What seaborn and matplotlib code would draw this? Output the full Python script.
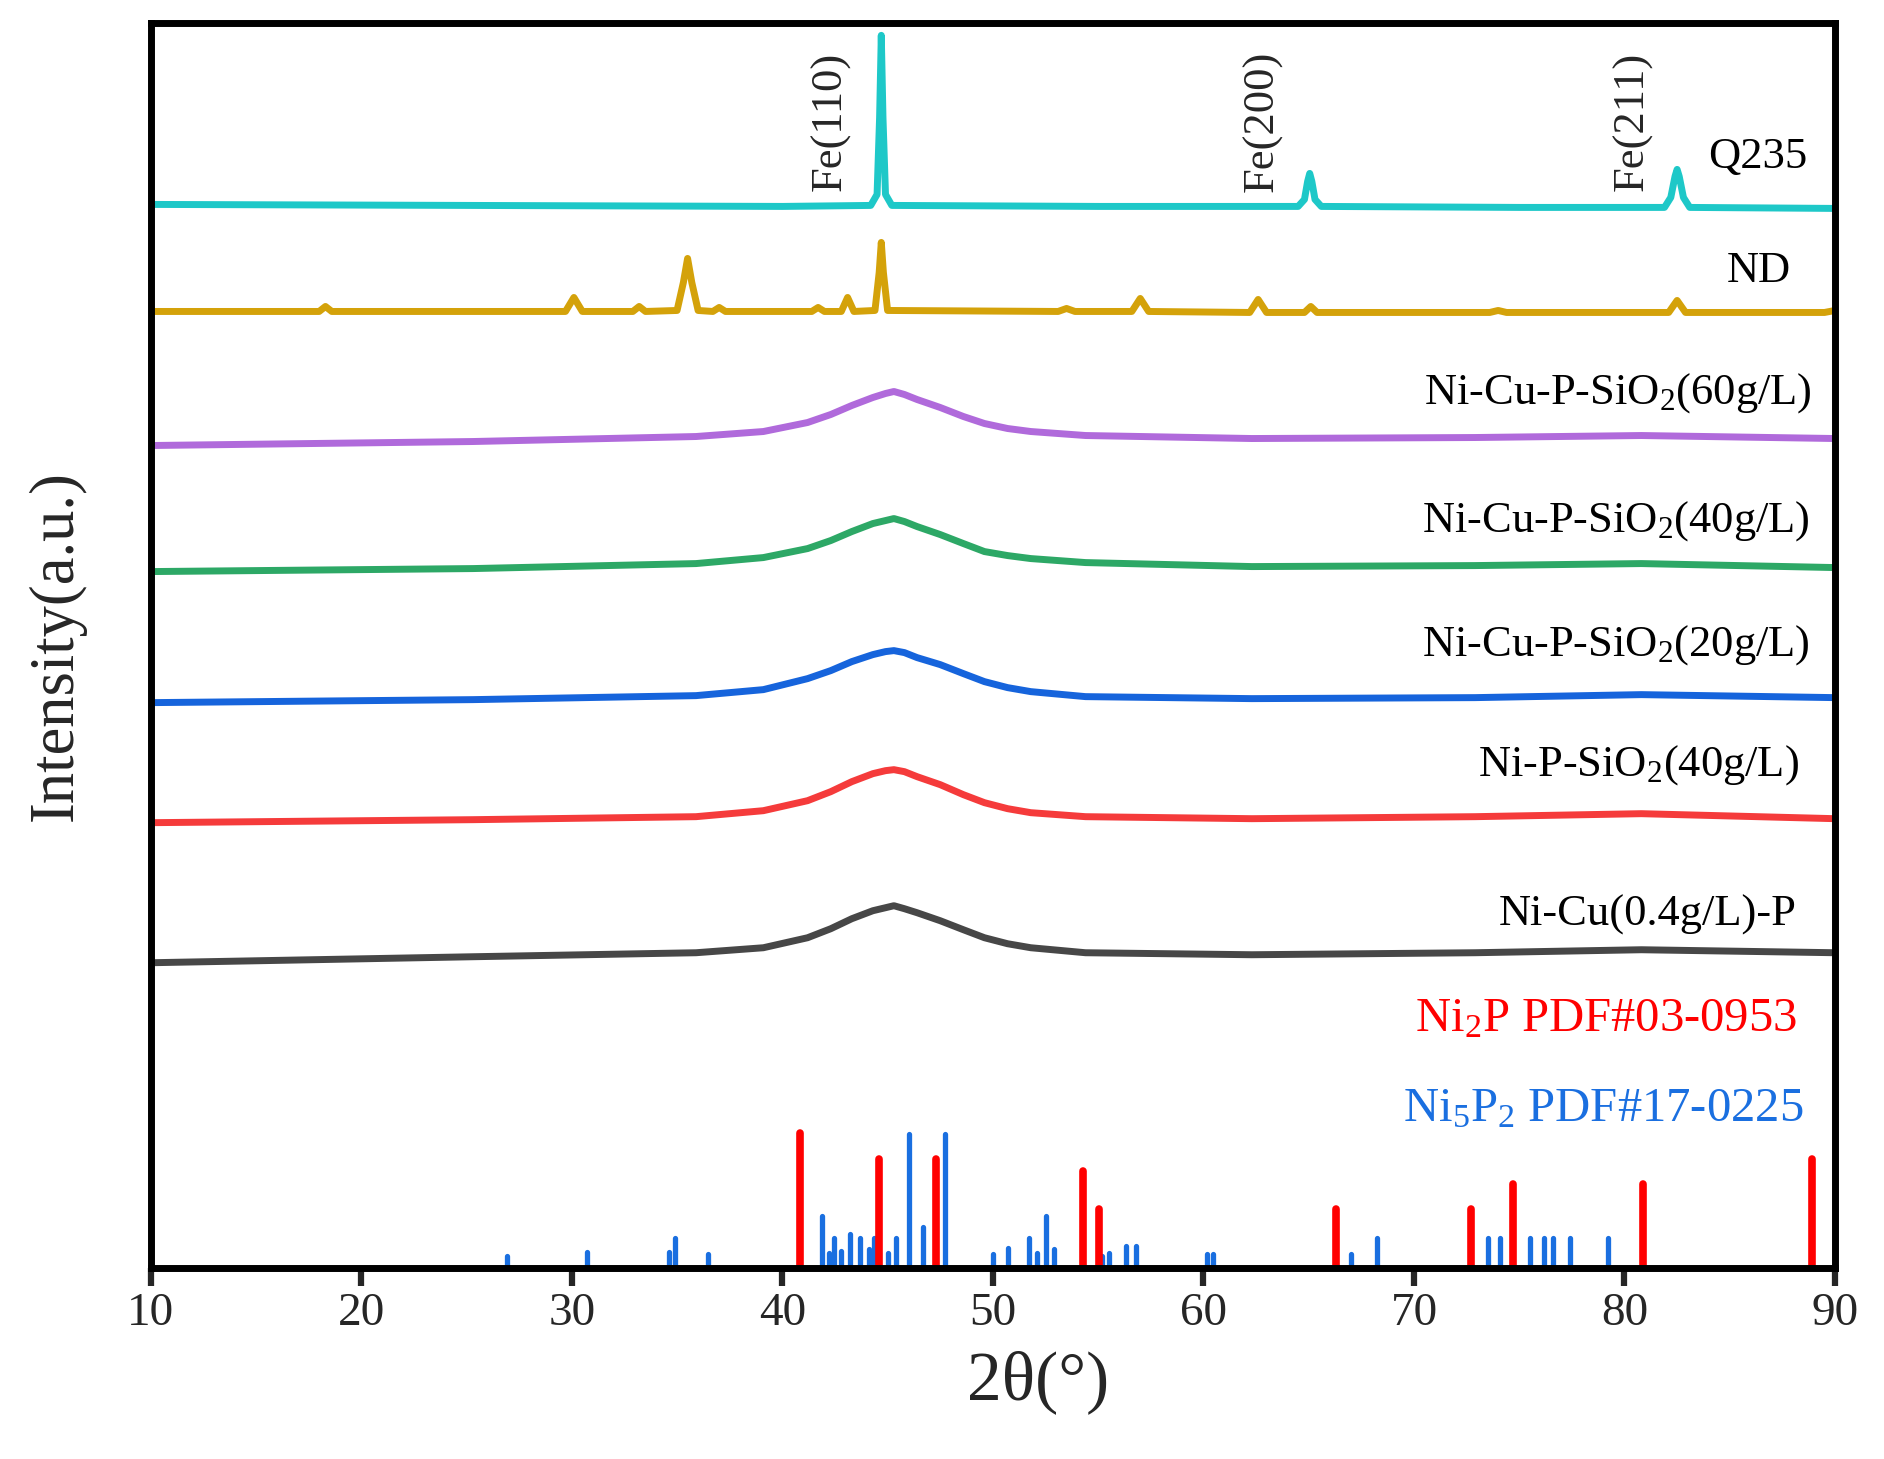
import pandas as pd
import matplotlib.pyplot as plt
import seaborn as sns

# XRD traces (2theta in degrees, intensity in a.u., already offset)
q235_x = [10, 25, 40, 44.2, 44.5, 44.62, 44.7, 44.78, 44.9, 45.2, 55, 64.5, 64.8, 64.95, 65.05, 65.15, 65.3, 65.6,
          75, 81.9, 82.2, 82.4, 82.5, 82.6, 82.8, 83.1, 90]
q235_y = [1063, 1062, 1061, 1062, 1073, 1150, 1232, 1150, 1073, 1062, 1061, 1061, 1068, 1086, 1094, 1086, 1068, 1061,
          1060, 1060, 1070, 1091, 1098, 1091, 1070, 1060, 1059]

nd_x = [10, 18.0, 18.3, 18.6, 29.7, 30.1, 30.5, 32.9, 33.2, 33.5, 35.0, 35.3, 35.5, 35.7, 36.0, 36.7, 37.0, 37.3,
        41.4, 41.7, 42.0, 42.8, 43.1, 43.4, 44.4, 44.6, 44.7, 44.8, 45.0, 53.1, 53.5, 53.9, 56.6, 57.0, 57.4,
        62.2, 62.6, 63.0, 64.8, 65.1, 65.4, 73.6, 74.0, 74.4, 82.1, 82.5, 82.9, 89.5, 90]
nd_y = [956, 956, 961, 956, 956, 970, 956, 956, 961, 956, 957, 985, 1009, 985, 957, 956, 960, 956,
        956, 960, 956, 956, 970, 956, 957, 995, 1025, 995, 957, 956, 959, 956, 956, 969, 956,
        955, 968, 955, 955, 961, 955, 955, 957, 955, 955, 967, 955, 955, 957]

hump_x = [10, 25.3, 35.9, 39.1, 41.2, 42.3, 43.3, 44.3, 44.9, 45.3, 45.8, 46.4, 47.5, 48.6, 49.6, 50.7, 51.8, 54.4,
          62.3, 72.9, 80.8, 90]
si60_y = [822, 826, 831, 836, 845, 853, 862, 870, 874, 876, 873, 868, 860, 851, 844, 839, 836, 832,
          829, 830, 832, 829]
si40_y = [696, 699, 704, 710, 719, 727, 736, 744, 747, 749, 746, 741, 733, 724, 716, 712, 709, 705,
          701, 702, 704, 700]
si20_y = [565, 568, 572, 578, 589, 597, 606, 613, 616, 617, 615, 610, 603, 594, 586, 580, 576, 571,
          569, 570, 573, 570]
nip_y = [445, 448, 451, 457, 467, 476, 486, 494, 497, 498, 496, 491, 483, 473, 465, 459, 455, 451,
         449, 451, 454, 449]
nicu_y = [305, 311, 315, 320, 330, 339, 349, 357, 360, 362, 359, 355, 347, 338, 330, 324, 320, 315,
          313, 315, 318, 315]

# reference stick patterns
ni2p_pos = [40.85, 44.6, 47.3, 54.3, 55.05, 66.3, 72.7, 74.7, 80.9, 88.9]
ni2p_int = [135, 109, 109, 97, 59, 59, 59, 84, 84, 109]
ni5p2_pos = [26.9, 30.7, 34.6, 34.9, 36.45, 41.9, 42.2, 42.45, 42.8, 43.2, 43.7, 44.1, 44.35, 45.0, 45.4, 46.0,
             46.7, 47.75, 50.0, 50.7, 51.7, 52.1, 52.5, 52.9, 55.2, 55.5, 56.3, 56.8, 60.15, 60.45, 67.0, 68.25,
             73.5, 74.1, 75.5, 76.2, 76.6, 77.4, 79.2]
ni5p2_int = [12, 16, 16, 30, 14, 52, 15, 30, 17, 34, 30, 19, 30, 15, 30, 134,
             41, 134, 14, 20, 30, 15, 52, 19, 12, 15, 22, 22, 14, 14, 14, 30,
             30, 30, 30, 30, 30, 30, 30]

fe_labels = ["Fe(110)", "Fe(200)", "Fe(211)"]
fe_pos = [42.3, 62.8, 80.4]

curve_names = ["Q235", "ND", "Ni-Cu-P-SiO$_2$(60g/L)", "Ni-Cu-P-SiO$_2$(40g/L)",
               "Ni-Cu-P-SiO$_2$(20g/L)", "Ni-P-SiO$_2$(40g/L)", "Ni-Cu(0.4g/L)-P"]
curve_colors = ["#1EC8C8", "#D4A20A", "#B06ADB", "#2DA866", "#1664DC", "#F53B3B", "#474747"]
label_x = [88.7, 87.9, 88.9, 88.8, 88.8, 88.3, 88.2]
label_y = [1110, 996, 874, 747, 623, 503, 353]

sns.set_style("ticks")
plt.rcParams['font.family'] = ['Liberation Serif', 'DejaVu Serif']
plt.rcParams['mathtext.default'] = 'regular'

fig = plt.figure(figsize=(18.84, 14.59), dpi=100)
ax = fig.add_axes([0.080, 0.131, 0.894, 0.853])

curves = [(q235_x, q235_y), (nd_x, nd_y), (hump_x, si60_y), (hump_x, si40_y),
          (hump_x, si20_y), (hump_x, nip_y), (hump_x, nicu_y)]
for (xs, ys), c in zip(curves, curve_colors):
    df = pd.DataFrame({"two_theta": xs, "intensity": ys})
    sns.lineplot(data=df, x="two_theta", y="intensity", color=c, lw=5, ax=ax, sort=True)

st1 = ax.vlines(ni5p2_pos, 0, ni5p2_int, color="#1A6FE0", lw=3.8)
st2 = ax.vlines(ni2p_pos, 0, ni2p_int, color="#FF0000", lw=5.5)
st1.set_capstyle("round")
st2.set_capstyle("round")

for name, c, lx, ly in zip(curve_names, curve_colors, label_x, label_y):
    ax.text(lx, ly, name, ha="right", va="center", fontsize=32, color="black")

for lab, p in zip(fe_labels, fe_pos):
    ax.text(p, 1146, lab, rotation=90, ha="center", va="center", fontsize=32)

ax.text(88.2, 248, "Ni$_2$P PDF#03-0953", ha="right", va="center", fontsize=35, color="#FF0000")
ax.text(88.5, 158, "Ni$_5$P$_2$ PDF#17-0225", ha="right", va="center", fontsize=35, color="#1A6FE0")

ax.set_xlim(10, 90)
ax.set_ylim(0, 1244)
ax.set_xticks(range(10, 91, 10))
ax.set_yticks([])
ax.set_xlabel("2θ(°)", fontsize=50)
ax.xaxis.set_label_coords(0.527, -0.066)
ax.set_ylabel("Intensity(a.u.)", fontsize=45, labelpad=47)
ax.tick_params(axis="x", direction="out", length=13, width=4.5, labelsize=34, pad=5)
for s in ax.spines.values():
    s.set_linewidth(5)
    s.set_color("black")

fig.savefig("out.png", dpi=100)
